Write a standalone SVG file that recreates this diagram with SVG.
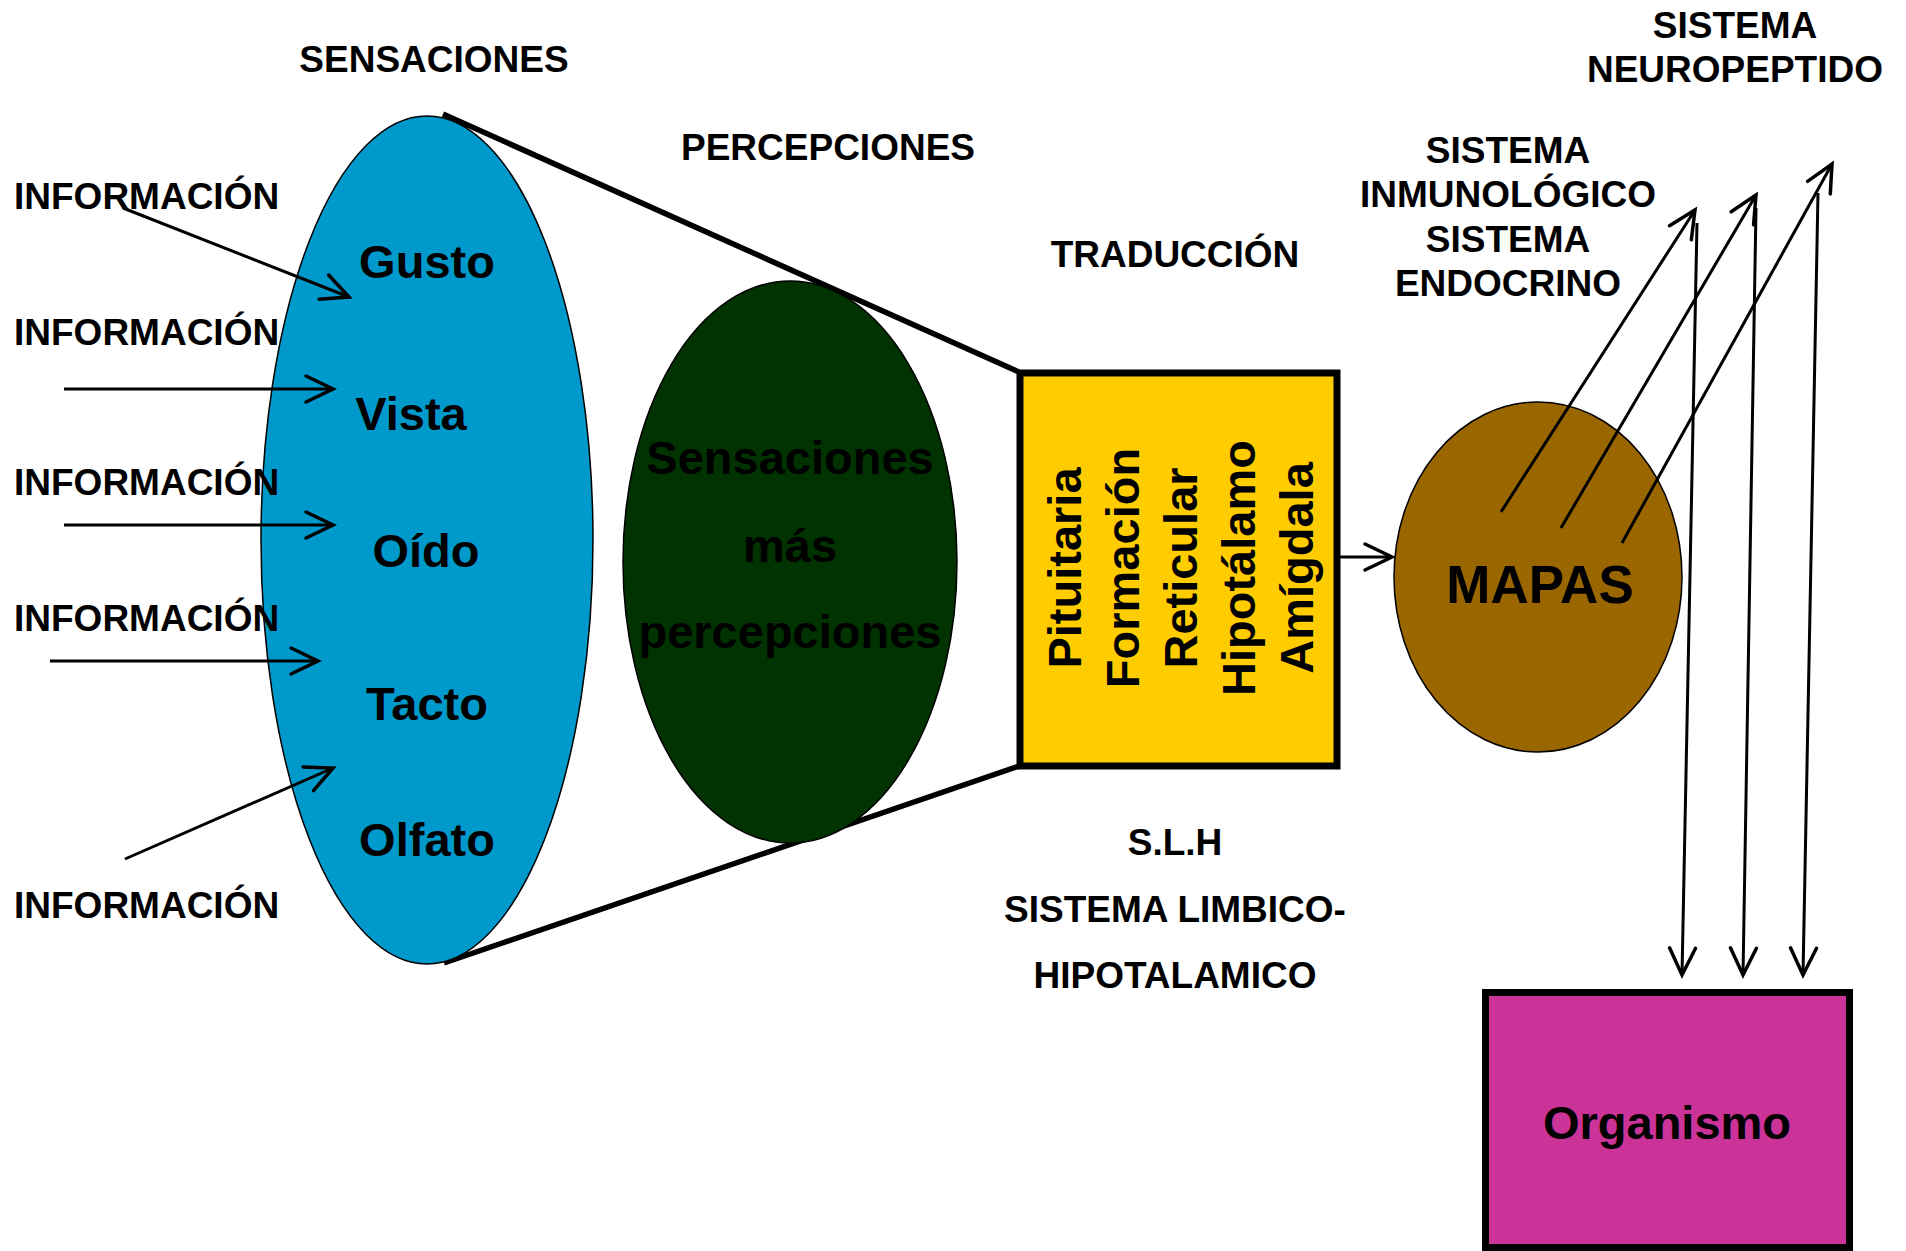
<svg xmlns="http://www.w3.org/2000/svg" width="1906" height="1251" viewBox="0 0 1906 1251">
<style>
text{font-family:"Liberation Sans",Arial,sans-serif;font-weight:bold;fill:#000;text-anchor:middle}
.lbl{font-size:37px}
.big{font-size:47px}
.info{font-size:37px;text-anchor:start}
.thin{fill:none;stroke:#000;stroke-width:3}
.funnel{fill:none;stroke:#000;stroke-width:5.5}
.shape{stroke:#000;stroke-width:1.5}
</style>
<defs>
<marker id="arr" markerUnits="userSpaceOnUse" orient="auto" overflow="visible" markerWidth="1" markerHeight="1">
<path d="M-27,-13 L0,0 L-27,13" fill="none" stroke="#000" stroke-width="3.5" stroke-linecap="round"/>
</marker>
</defs>
<rect width="1906" height="1251" fill="#fff"/>

<g id="funnel">
<line class="funnel" x1="443" y1="114" x2="1019" y2="372"/>
<line class="funnel" x1="444" y1="963" x2="1019" y2="766"/>
</g>

<g id="sensaciones">
<ellipse class="shape" cx="427" cy="540" rx="166" ry="424" fill="#0099CC"/>
<text class="big" x="427" y="278">Gusto</text>
<text class="big" x="411" y="430">Vista</text>
<text class="big" x="426" y="567">Oído</text>
<text class="big" x="427" y="720">Tacto</text>
<text class="big" x="427" y="856">Olfato</text>
</g>

<g id="percepciones">
<ellipse class="shape" cx="790" cy="562" rx="167" ry="281" fill="#003300"/>
<text class="big" x="790" y="474">Sensaciones</text>
<text class="big" x="790" y="562">más</text>
<text class="big" x="790" y="648">percepciones</text>
</g>

<g id="traduccion">
<rect x="1020" y="373" width="317" height="393" fill="#FFCC00" stroke="#000" stroke-width="7"/>
<text class="big" transform="translate(1081,568) rotate(-90)">Pituitaria</text>
<text class="big" transform="translate(1139,568) rotate(-90)">Formación</text>
<text class="big" transform="translate(1197,568) rotate(-90)">Reticular</text>
<text class="big" transform="translate(1255,568) rotate(-90)">Hipotálamo</text>
<text class="big" transform="translate(1313,568) rotate(-90)">Amígdala</text>
</g>

<g id="mapas">
<ellipse class="shape" cx="1538" cy="577" rx="144" ry="175" fill="#996600"/>
<text x="1540" y="603" style="font-size:53px">MAPAS</text>
</g>

<g id="organismo">
<rect x="1485.5" y="992.5" width="364" height="255" fill="#CC3399" stroke="#000" stroke-width="7"/>
<text class="big" x="1667" y="1139">Organismo</text>
</g>

<g id="labels">
<text class="lbl" x="434" y="72">SENSACIONES</text>
<text class="lbl" x="828" y="160">PERCEPCIONES</text>
<text class="lbl" x="1175" y="267">TRADUCCIÓN</text>
<text class="lbl" x="1735" y="38">SISTEMA</text>
<text class="lbl" x="1735" y="82">NEUROPEPTIDO</text>
<text class="lbl" x="1508" y="163">SISTEMA</text>
<text class="lbl" x="1508" y="207">INMUNOLÓGICO</text>
<text class="lbl" x="1508" y="252">SISTEMA</text>
<text class="lbl" x="1508" y="296">ENDOCRINO</text>
<text class="lbl" x="1175" y="855">S.L.H</text>
<text class="lbl" x="1175" y="922">SISTEMA LIMBICO-</text>
<text class="lbl" x="1175" y="988">HIPOTALAMICO</text>
<text class="info" x="14" y="209">INFORMACIÓN</text>
<text class="info" x="14" y="345">INFORMACIÓN</text>
<text class="info" x="14" y="495">INFORMACIÓN</text>
<text class="info" x="14" y="631">INFORMACIÓN</text>
<text class="info" x="14" y="918">INFORMACIÓN</text>
</g>

<g id="connectors">
<line class="thin" x1="123" y1="208" x2="349" y2="297" marker-end="url(#arr)"/>
<line class="thin" x1="64" y1="389" x2="333" y2="389" marker-end="url(#arr)"/>
<line class="thin" x1="64" y1="525" x2="333" y2="525" marker-end="url(#arr)"/>
<line class="thin" x1="50" y1="661" x2="318" y2="661" marker-end="url(#arr)"/>
<line class="thin" x1="125" y1="859" x2="333" y2="768" marker-end="url(#arr)"/>
<line class="thin" x1="1340" y1="557" x2="1392" y2="557" marker-end="url(#arr)"/>
<line class="thin" x1="1501" y1="512" x2="1695" y2="210" marker-end="url(#arr)"/>
<line class="thin" x1="1561" y1="528" x2="1756" y2="195" marker-end="url(#arr)"/>
<line class="thin" x1="1622" y1="543" x2="1832" y2="164" marker-end="url(#arr)"/>
<line class="thin" x1="1697" y1="223" x2="1682" y2="975" marker-end="url(#arr)"/>
<line class="thin" x1="1756" y1="208" x2="1743" y2="975" marker-end="url(#arr)"/>
<line class="thin" x1="1818" y1="193" x2="1803" y2="975" marker-end="url(#arr)"/>
</g>
</svg>
